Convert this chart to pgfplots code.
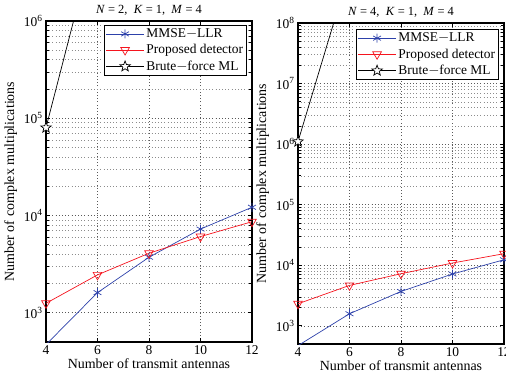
\documentclass[border=0pt]{standalone}
\usepackage{fontspec}
\setmainfont{Liberation Serif}
\usepackage{pgfplots}
\pgfplotsset{compat=1.18}
\pgfkeys{/pgf/number format/assume math mode=true}
\definecolor{mblue}{RGB}{45,65,170}
\definecolor{mred}{RGB}{245,20,30}
\pgfdeclareplotmark{pentagram}{%
  \pgfpathmoveto{\pgfpointpolar{90}{\pgfplotmarksize}}%
  \pgfpathlineto{\pgfpointpolar{126}{0.42\pgfplotmarksize}}%
  \pgfpathlineto{\pgfpointpolar{162}{\pgfplotmarksize}}%
  \pgfpathlineto{\pgfpointpolar{198}{0.42\pgfplotmarksize}}%
  \pgfpathlineto{\pgfpointpolar{234}{\pgfplotmarksize}}%
  \pgfpathlineto{\pgfpointpolar{270}{0.42\pgfplotmarksize}}%
  \pgfpathlineto{\pgfpointpolar{306}{\pgfplotmarksize}}%
  \pgfpathlineto{\pgfpointpolar{342}{0.42\pgfplotmarksize}}%
  \pgfpathlineto{\pgfpointpolar{18}{\pgfplotmarksize}}%
  \pgfpathlineto{\pgfpointpolar{54}{0.42\pgfplotmarksize}}%
  \pgfpathclose\pgfusepathqfillstroke}
\pgfplotsset{
  every axis/.append style={
    scale only axis, width=206bp, height=321bp,
    xmin=4, xmax=12, xtick={4,6,8,10,12},
    grid=both,
    major grid style={black!65, line width=0.5bp, dash pattern=on 0.6bp off 2.6bp},
    minor grid style={black!45, line width=0.5bp, dash pattern=on 0.6bp off 2.6bp},
    axis line style={line width=1.1bp},
    tick style={black, line width=0.6bp},
    tick label style={font=\fontsize{13.5}{15}\selectfont},
    label style={font=\fontsize{14}{16}\selectfont},
    title style={font=\fontsize{12.5}{14}\selectfont, yshift=-4bp},
    xlabel={Number of transmit antennas},
    ylabel={Number of complex multiplications},
    xlabel style={yshift=3bp},
    legend cell align=left,
    legend style={font=\fontsize{13.5}{15}\selectfont, draw=black, line width=0.8bp,
      inner sep=1.5bp, row sep=1.5bp, anchor=north east},
    legend image code/.code={\draw[mark repeat=2,mark phase=2] plot coordinates {(0bp,0bp) (19bp,0bp) (38bp,0bp)};},
  },
}
\tikzset{
  mmse/.style={color=mblue, line width=0.7bp, mark=asterisk, mark size=4.5bp, mark options={line width=0.7bp}},
  prop/.style={color=mred, line width=0.7bp, mark=triangle, mark size=5bp, mark options={rotate=180, fill=white, line width=0.7bp}},
  brute/.style={color=black, line width=0.7bp, mark=pentagram, mark size=5.5bp, mark options={fill=white, line width=0.7bp}},
}
\begin{document}
\begin{tikzpicture}
\useasboundingbox (0,0) rectangle (506bp,-381bp);
\begin{axis}[ymode=log, at={(46bp,-342bp)}, anchor=south west,
  ymin=500, ymax=1e6,
  ytick={1e3,1e4,1e5,1e6},
  yticklabels={10\textsuperscript{3},10\textsuperscript{4},10\textsuperscript{5},10\textsuperscript{6}},
  title={\textit{N} = 2,\ \ \textit{K} = 1,\ \ \textit{M} = 4},
  legend style={at={(0.976,0.988)}}]
\addplot[mmse, no marks, forget plot] coordinates {(4,470) (6,1610)};
\addplot[brute, no marks, forget plot] coordinates {(4,80000) (6,9000000)};
\addplot[mmse] coordinates {(6,1610) (8,3720) (10,7250) (12,12150)};
\addlegendentry{MMSE$-$LLR}
\addplot[prop] coordinates {(4,1250) (6,2450) (8,4090) (10,6070) (12,8630)};
\addlegendentry{Proposed detector}
\addplot[brute] coordinates {(4,80000)};
\addlegendentry{Brute$-$force ML}
\end{axis}
\begin{axis}[ymode=log, at={(298bp,-344bp)}, anchor=south west,
  ymin=500, ymax=1e8,
  ytick={1e3,1e4,1e5,1e6,1e7,1e8},
  yticklabels={10\textsuperscript{3},10\textsuperscript{4},10\textsuperscript{5},10\textsuperscript{6},10\textsuperscript{7},10\textsuperscript{8}},
  title={\textit{N} = 4,\ \ \textit{K} = 1,\ \ \textit{M} = 4},
  legend style={at={(0.976,0.981)}}]
\addplot[mmse, no marks, forget plot] coordinates {(4,470) (6,1580)};
\addplot[brute, no marks, forget plot] coordinates {(4,1100000) (6,740000000)};
\addplot[mmse] coordinates {(6,1580) (8,3690) (10,7160) (12,12300)};
\addlegendentry{MMSE$-$LLR}
\addplot[prop] coordinates {(4,2310) (6,4640) (8,7240) (10,10870) (12,15500)};
\addlegendentry{Proposed detector}
\addplot[brute] coordinates {(4,1100000)};
\addlegendentry{Brute$-$force ML}
\end{axis}
\end{tikzpicture}
\end{document}
